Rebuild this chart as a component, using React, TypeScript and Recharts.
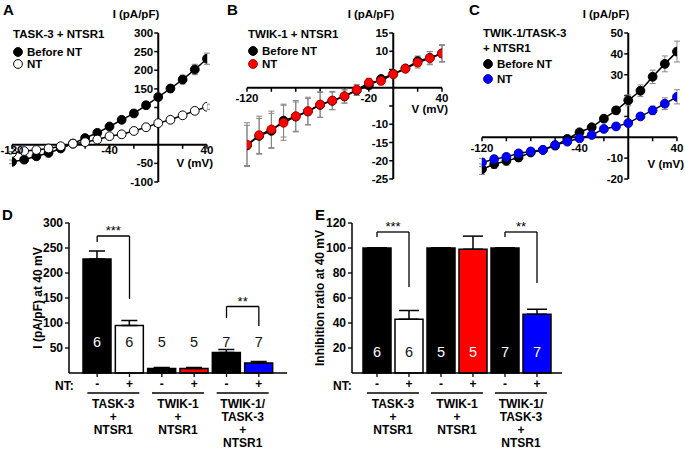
import React from "react";
import {
  LineChart,
  Line,
  XAxis,
  YAxis,
  ReferenceLine,
  ErrorBar,
  Legend,
  BarChart,
  Bar,
  Cell,
  LabelList,
} from "recharts";

const FONT = '"Liberation Sans", Arial, Helvetica, sans-serif';

// ---- I-V curves (A, B, C) ----
const voltages = [-120, -110, -100, -90, -80, -70, -60, -50, -40, -30, -20, -10, 0, 10, 20, 30, 40];

const task3Before = [-46, -40, -31, -22, -10, 3, 18, 32, 49, 67, 84, 106, 128, 151, 175, 202, 231];
const task3BeforeErr = [5, 4, 4, 4, 4, 4, 4, 4, 5, 5, 6, 7, 8, 10, 12, 14, 15];
const task3Nt = [-22, -17, -14, -10, -4, 3, 7, 14, 23, 28, 37, 47, 58, 67, 79, 91, 102];
const task3NtErr = [4, 4, 3, 3, 3, 3, 3, 3, 4, 4, 4, 5, 5, 5, 6, 6, 7];

const twik1Before = [-15.8, -13.2, -11.8, -9.0, -7.9, -6.5, -4.7, -3.6, -2.4, -0.7, 0.7, 2.4, 3.8, 5.3, 7.3, 8.2, 9.4];
const twik1BeforeErr = [5.5, 4.8, 4.8, 4.5, 4, 3.6, 3.4, 2.4, 1.8, 1.4, 1.1, 1, 0.9, 0.8, 1.4, 1.7, 2.2];
const twik1Nt = [-15.6, -13.0, -11.4, -9.6, -7.8, -6.4, -4.6, -3.5, -2.3, -0.6, 1.4, 1.9, 3.7, 5.2, 6.9, 8.1, 9.4];
const twik1NtErr = [6, 5.2, 5, 4.8, 4.3, 3.8, 3.5, 2.5, 1.9, 1.5, 1.2, 1.1, 1, 0.8, 1.5, 1.8, 2.4];

const mixBefore = [-15.3, -12.9, -11.3, -9.7, -7.3, -6.1, -4.0, -0.8, 2.4, 4.8, 8.9, 12.9, 17.7, 22.3, 29.0, 35.2, 41.1];
const mixBeforeErr = [2.5, 2, 2, 1.8, 1.5, 1.3, 1.2, 1.2, 1.3, 1.5, 1.6, 1.8, 2.6, 2.8, 3.2, 3.8, 5];
const mixNt = [-12.1, -10.5, -9.4, -7.7, -6.8, -6.0, -3.7, -2.1, -0.5, 1.1, 4.0, 5.2, 6.8, 10.0, 12.9, 16.1, 19.4];
const mixNtErr = [2, 1.8, 1.5, 1.5, 1.2, 1, 1, 1, 1, 1, 1, 1.2, 1.3, 1.5, 2, 2.8, 3.4];

// ---- bar panels (D, E) ----
const conditionIds = ["t3-", "t3+", "tw-", "tw+", "tt-", "tt+"];
const ntSigns = ["-", "+", "-", "+", "-", "+"];
const groupNames = [
  "TASK-3\n+\nNTSR1",
  "TASK-3\n+\nNTSR1",
  "TWIK-1\n+\nNTSR1",
  "TWIK-1\n+\nNTSR1",
  "TWIK-1/\nTASK-3\n+\nNTSR1",
  "TWIK-1/\nTASK-3\n+\nNTSR1",
];
const cellCounts = [6, 6, 5, 5, 7, 7];
const barFills = ["#000000", "#ffffff", "#000000", "#ff0000", "#000000", "#0000ff"];

const currentAt40 = [228, 95, 9, 9, 41, 20];
const currentErr = [16, 10, 2, 2, 6, 3];
const currentCountColors = ["#fff", "#111", "#111", "#111", "#111", "#111"];

const inhibitionRatio = [100, 43, 100, 99, 100, 47];
const inhibitionErr = [0, 7, 0, 10.5, 0, 4];
const inhibitionCountColors = ["#fff", "#111", "#fff", "#fff", "#fff", "#fff"];

const currentBrackets = [
  { from: "t3-", to: "t3+", top: 274, leftEnd: 262, rightEnd: 148, stars: "***" },
  { from: "tt-", to: "tt+", top: 133, leftEnd: 110, rightEnd: 94, stars: "**" },
];
const inhibitionBrackets = [
  { from: "t3-", to: "t3+", top: 112.8, leftEnd: 108.8, rightEnd: 68.8, stars: "***" },
  { from: "tt-", to: "tt+", top: 112.8, leftEnd: 108.8, rightEnd: 72, stars: "**" },
];

type Series = { key: string; errKey: string; name: string; fill: string; stroke: string };

const tickFont = { fill: "#000", fontSize: 11.5, fontWeight: 700, fontFamily: FONT };

function IVLegend({ titleLines, titleTop, titleGap, rowTop, rowGap, items }: any) {
  return (
    <div style={{ position: "relative", width: 130, height: 90, fontFamily: FONT, fontWeight: 700, fontSize: 11.5, color: "#000" }}>
      {titleLines.map((t: string, i: number) => (
        <div key={t} style={{ position: "absolute", left: 0, top: titleTop + i * titleGap - 7, lineHeight: "14px", whiteSpace: "nowrap" }}>
          {t}
        </div>
      ))}
      {items.map((it: Series, i: number) => (
        <div
          key={it.name}
          style={{ position: "absolute", left: 0, top: rowTop + i * rowGap - 7, height: 14, display: "flex", alignItems: "center", whiteSpace: "nowrap" }}
        >
          <svg width={10} height={10} style={{ marginRight: 4 }}>
            <circle cx={5} cy={5} r={4.4} fill={it.fill} stroke={it.stroke} strokeWidth={1} />
          </svg>
          <span style={{ lineHeight: "14px" }}>{it.name}</span>
        </div>
      ))}
    </div>
  );
}

function IVPanel(p: any) {
  const width = 230;
  const height = 200;
  const plotH = height - p.margin.top - p.margin.bottom;
  const plotW = width - p.margin.left - p.margin.right;
  const yLen = (4 * (p.yDomain[1] - p.yDomain[0])) / plotH;
  const xLen = (4 * 160) / plotW;
  const data = voltages.map((v, i) => {
    const row: any = { v };
    p.values.forEach((vals: number[], k: number) => {
      row[p.series[k].key] = vals[i];
      row[p.series[k].errKey] = p.errors[k][i];
    });
    return row;
  });
  return (
    <div style={{ position: "absolute", left: p.left, top: 0, width, height }}>
      <LineChart width={width} height={height} data={data} margin={p.margin}>
        <XAxis type="number" dataKey="v" domain={[-120, 40]} hide allowDataOverflow />
        <YAxis type="number" domain={p.yDomain} hide allowDataOverflow />
        <ReferenceLine
          y={0}
          stroke="#000"
          strokeWidth={2}
          label={(lp: any) => (
            <text
              x={lp.viewBox.x + lp.viewBox.width + p.vLabelDx}
              y={lp.viewBox.y + p.vLabelDy}
              textAnchor="end"
              fill="#000"
              fontSize={11.5}
              fontWeight={700}
              fontFamily={FONT}
            >
              V (mV)
            </text>
          )}
        />
        <ReferenceLine
          x={0}
          stroke="#000"
          strokeWidth={2}
          label={(lp: any) => (
            <text x={lp.viewBox.x + 1} y={lp.viewBox.y - 15} textAnchor="end" fill="#000" fontSize={11.5} fontWeight={700} fontFamily={FONT}>
              I (pA/pF)
            </text>
          )}
        />
        {p.xTicks.map((t: number) => (
          <ReferenceLine
            key={`xt${t}`}
            segment={[{ x: t, y: 0 }, { x: t, y: -yLen }]}
            stroke="#000"
            strokeWidth={1.5}
            label={p.xLabels.includes(t) ? { value: String(t), position: "bottom", offset: p.xLabelOffset, ...tickFont } : undefined}
          />
        ))}
        {p.yTicks.map((t: number) => (
          <ReferenceLine
            key={`yt${t}`}
            segment={[{ x: 0, y: t }, { x: -xLen, y: t }]}
            stroke="#000"
            strokeWidth={1.5}
            label={p.yLabels.includes(t) ? { value: String(t), position: "left", offset: 1, ...tickFont } : undefined}
          />
        ))}
        {p.series.map((s: Series) => (
          <Line
            key={s.key}
            dataKey={s.key}
            name={s.name}
            stroke="#000"
            strokeWidth={1.5}
            dot={{ r: 4.4, fill: s.fill, stroke: s.stroke, strokeWidth: 1 }}
            activeDot={false}
            isAnimationActive={false}
          >
            <ErrorBar dataKey={s.errKey} width={3} stroke="#858585" strokeWidth={1} direction="y" />
          </Line>
        ))}
        <Legend
          layout="vertical"
          align="center"
          verticalAlign="middle"
          wrapperStyle={{ left: p.legendLeft, top: 0, width: 130 }}
          content={() => (
            <IVLegend
              titleLines={p.titleLines}
              titleTop={p.titleTop}
              titleGap={p.titleGap}
              rowTop={p.rowTop}
              rowGap={p.rowGap}
              items={p.series}
            />
          )}
        />
      </LineChart>
    </div>
  );
}

function GroupTick(props: any) {
  const { x, y, payload } = props;
  const lines = String(payload.value).split("\n");
  return (
    <g>
      <line x1={x - 26} x2={x + 26} y1={y + 6} y2={y + 6} stroke="#000" strokeWidth={1.3} />
      {lines.map((l, i) => (
        <text key={i} x={x} y={y + 20.5 + i * 13.3} textAnchor="middle" fill="#000" fontSize={12} fontWeight={700} fontFamily={FONT}>
          {l}
        </text>
      ))}
    </g>
  );
}

function BarPanel(p: any) {
  const data = conditionIds.map((id, i) => ({
    id,
    group: groupNames[i],
    value: p.values[i],
    err: [0, p.errors[i]],
    n: cellCounts[i],
  }));
  return (
    <div style={{ position: "absolute", left: p.left, top: 200, width: p.width, height: 249 }}>
      <BarChart width={p.width} height={249} data={data} margin={p.margin}>
        <XAxis
          dataKey="id"
          interval={0}
          padding={{ left: p.pad, right: p.pad }}
          tickFormatter={(_v: any, i: number) => ntSigns[i]}
          axisLine={{ stroke: "#000", strokeWidth: 1.5 }}
          tickLine={{ stroke: "#000", strokeWidth: 1.3 }}
          tickSize={4}
          tickMargin={2}
          height={14}
          tick={{ fill: "#000", fontSize: 12, fontWeight: 700, fontFamily: FONT }}
          label={(lp: any) => (
            <text x={lp.viewBox.x + p.ntDx} y={lp.viewBox.y + 16.5} fill="#000" fontSize={12} fontWeight={700} fontFamily={FONT}>
              NT:
            </text>
          )}
        />
        <XAxis
          xAxisId="grp"
          dataKey="group"
          allowDuplicatedCategory={false}
          interval={0}
          padding={{ left: p.pad, right: p.pad }}
          axisLine={false}
          tickLine={false}
          tickSize={0}
          tickMargin={0}
          height={62}
          tick={<GroupTick />}
        />
        <YAxis
          domain={p.yDomain}
          ticks={p.yTicks}
          width={p.yAxisWidth}
          axisLine={{ stroke: "#000", strokeWidth: 1.5 }}
          tickLine={{ stroke: "#000", strokeWidth: 1.3 }}
          tickSize={4}
          tickMargin={2}
          tick={{ fill: "#000", fontSize: 12, fontWeight: 700, fontFamily: FONT }}
          label={(lp: any) => {
            const cx = lp.viewBox.x + p.yLabelDx;
            const cy = lp.viewBox.y + lp.viewBox.height / 2;
            return (
              <text
                transform={`translate(${cx + 4.3},${cy}) rotate(-90)`}
                textAnchor="middle"
                fill="#000"
                fontSize={12}
                fontWeight={700}
                fontFamily={FONT}
              >
                {p.yLabel}
              </text>
            );
          }}
        />
        <Bar dataKey="value" barSize={28} stroke="#000" strokeWidth={1.5} isAnimationActive={false}>
          {data.map((d, i) => (
            <Cell key={d.id} fill={barFills[i]} />
          ))}
          <ErrorBar dataKey="err" width={p.capHalf} stroke="#000" strokeWidth={1.5} direction="y" />
          <LabelList
            dataKey="n"
            content={(lp: any) => {
              const vb = lp.viewBox && lp.viewBox.width !== undefined ? lp.viewBox : lp;
              const base = vb.y + vb.height;
              return (
                <text
                  x={vb.x + vb.width / 2}
                  y={base - p.countUp}
                  textAnchor="middle"
                  fill={p.countColors[lp.index] ?? "#111"}
                  fontSize={14.5}
                  fontFamily={FONT}
                >
                  {lp.value}
                </text>
              );
            }}
          />
        </Bar>
        {p.brackets.map((b: any) => (
          <ReferenceLine
            key={`h${b.from}`}
            segment={[{ x: b.from, y: b.top }, { x: b.to, y: b.top }]}
            stroke="#000"
            strokeWidth={1.3}
            label={{ value: b.stars, position: "top", offset: 1, fill: "#000", fontSize: 13, fontFamily: FONT }}
          />
        ))}
        {p.brackets.map((b: any) => (
          <ReferenceLine key={`l${b.from}`} segment={[{ x: b.from, y: b.top }, { x: b.from, y: b.leftEnd }]} stroke="#000" strokeWidth={1.3} />
        ))}
        {p.brackets.map((b: any) => (
          <ReferenceLine key={`r${b.from}`} segment={[{ x: b.to, y: b.top }, { x: b.to, y: b.rightEnd }]} stroke="#000" strokeWidth={1.3} />
        ))}
      </BarChart>
    </div>
  );
}

function Letter({ x, y, children }: any) {
  return (
    <div style={{ position: "absolute", left: x, top: y, fontFamily: FONT, fontWeight: 700, fontSize: 15, lineHeight: "17px", color: "#000" }}>
      {children}
    </div>
  );
}

const xTicksIV = [-120, -100, -80, -60, -40, -20, 20, 40];

export default function App() {
  return (
    <div style={{ position: "absolute", left: 0, top: 0, width: 685, height: 449, background: "#fff", overflow: "hidden" }}>
      <IVPanel
        left={0}
        margin={{ top: 33, right: 23, bottom: 18, left: 12 }}
        yDomain={[-100, 300]}
        xTicks={xTicksIV}
        xLabels={[-120, -40, 40]}
        xLabelOffset={-3}
        yTicks={[-100, -50, 50, 100, 150, 200, 250, 300]}
        yLabels={[-100, -50, 150, 200, 250, 300]}
        vLabelDx={6}
        vLabelDy={22}
        series={[
          { key: "before", errKey: "beforeErr", name: "Before NT", fill: "#000", stroke: "#000" },
          { key: "nt", errKey: "ntErr", name: "NT", fill: "#fff", stroke: "#000" },
        ]}
        values={[task3Before, task3Nt]}
        errors={[task3BeforeErr, task3NtErr]}
        legendLeft={13}
        titleLines={["TASK-3 + NTSR1"]}
        titleTop={34}
        titleGap={15}
        rowTop={52}
        rowGap={12.3}
      />
      <IVPanel
        left={225}
        margin={{ top: 33, right: 13, bottom: 21, left: 22 }}
        yDomain={[-25, 15]}
        xTicks={xTicksIV}
        xLabels={[-120, -20, 40]}
        xLabelOffset={2.5}
        yTicks={[-25, -20, -15, -10, -5, 5, 10, 15]}
        yLabels={[-25, -20, -15, -10, 10, 15]}
        vLabelDx={6}
        vLabelDy={25.5}
        series={[
          { key: "before", errKey: "beforeErr", name: "Before NT", fill: "#000", stroke: "#000" },
          { key: "nt", errKey: "ntErr", name: "NT", fill: "#ff0000", stroke: "#b00000" },
        ]}
        values={[twik1Before, twik1Nt]}
        errors={[twik1BeforeErr, twik1NtErr]}
        legendLeft={23}
        titleLines={["TWIK-1 + NTSR1"]}
        titleTop={34}
        titleGap={15}
        rowTop={51}
        rowGap={12.5}
      />
      <IVPanel
        left={455}
        margin={{ top: 33, right: 8, bottom: 21, left: 27 }}
        yDomain={[-20, 50]}
        xTicks={xTicksIV}
        xLabels={[-120, -40, 40]}
        xLabelOffset={3}
        yTicks={[-20, -10, 10, 20, 30, 40, 50]}
        yLabels={[-20, -10, 30, 40, 50]}
        vLabelDx={7}
        vLabelDy={31}
        series={[
          { key: "before", errKey: "beforeErr", name: "Before NT", fill: "#000", stroke: "#000" },
          { key: "nt", errKey: "ntErr", name: "NT", fill: "#0000ff", stroke: "#0000b0" },
        ]}
        values={[mixBefore, mixNt]}
        errors={[mixBeforeErr, mixNtErr]}
        legendLeft={28}
        titleLines={["TWIK-1/TASK-3", "+ NTSR1"]}
        titleTop={33}
        titleGap={15}
        rowTop={64}
        rowGap={15}
      />
      <BarPanel
        left={0}
        width={340}
        margin={{ top: 23, right: 53, bottom: 0, left: 9 }}
        yAxisWidth={60}
        pad={12}
        yDomain={[0, 300]}
        yTicks={[50, 100, 150, 200, 250, 300]}
        values={currentAt40}
        errors={currentErr}
        capHalf={8}
        countUp={25.6}
        countColors={currentCountColors}
        brackets={currentBrackets}
        yLabel="I (pA/pF) at 40 mV"
        yLabelDx={29}
        ntDx={-14}
      />
      <BarPanel
        left={300}
        width={385}
        margin={{ top: 23, right: 123, bottom: 0, left: 8 }}
        yAxisWidth={44}
        pad={9}
        yDomain={[0, 120]}
        yTicks={[20, 40, 60, 80, 100, 120]}
        values={inhibitionRatio}
        errors={inhibitionErr}
        capHalf={10}
        countUp={15.6}
        countColors={inhibitionCountColors}
        brackets={inhibitionBrackets}
        yLabel="Inhibition ratio at 40 mV"
        yLabelDx={12}
        ntDx={-19}
      />
      <Letter x={3} y={1}>A</Letter>
      <Letter x={227} y={1}>B</Letter>
      <Letter x={469} y={1}>C</Letter>
      <Letter x={2} y={206}>D</Letter>
      <Letter x={315} y={206}>E</Letter>
    </div>
  );
}
